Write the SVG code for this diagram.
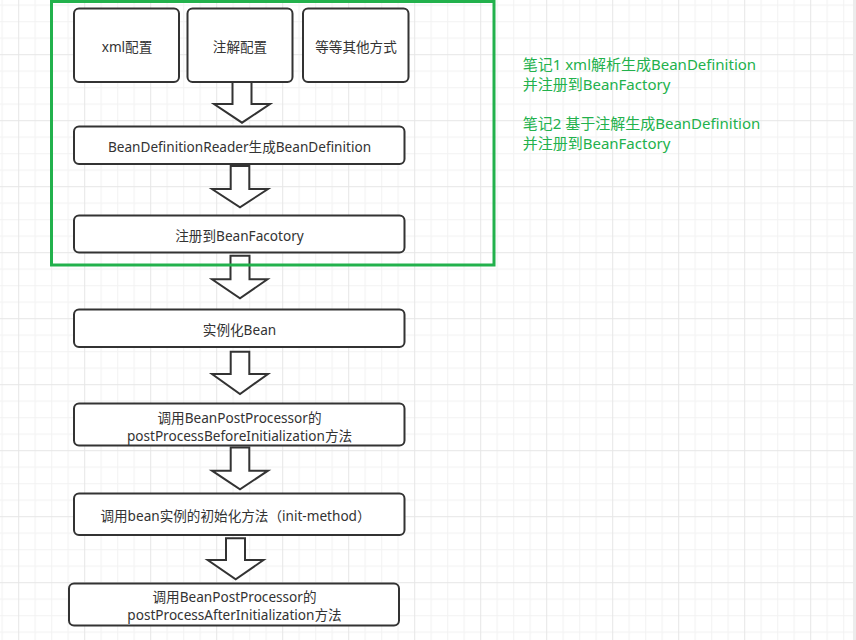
<svg xmlns="http://www.w3.org/2000/svg" width="856" height="640" viewBox="0 0 856 640">
<style>
.box{fill:#ffffff;stroke:#333333;stroke-width:2}
.arrow{fill:#ffffff;stroke:#333333;stroke-width:2;stroke-linejoin:miter}
.lbl{font-family:"Noto Sans","Noto Sans CJK SC",sans-serif;font-size:13.6px;fill:#333333;text-anchor:middle;dominant-baseline:central}
.note{font-family:"Noto Sans","Noto Sans CJK SC",sans-serif;font-size:15px;fill:#22b14c}
.frame{fill:none;stroke:#22b14c;stroke-width:3}
</style>
<defs>
<pattern id="grid" patternUnits="userSpaceOnUse" x="18.2" y="54.2" width="66" height="66">
<rect x="0" y="0" width="66" height="66" fill="#ffffff"/>
<rect x="16.5" y="0" width="1" height="66" fill="#f2f2f2"/>
<rect x="33" y="0" width="1" height="66" fill="#f2f2f2"/>
<rect x="49.5" y="0" width="1" height="66" fill="#f2f2f2"/>
<rect x="0" y="16.5" width="66" height="1" fill="#f2f2f2"/>
<rect x="0" y="33" width="66" height="1" fill="#f2f2f2"/>
<rect x="0" y="49.5" width="66" height="1" fill="#f2f2f2"/>
<rect x="0" y="0" width="1" height="66" fill="#e6e6e6"/>
<rect x="0" y="0" width="66" height="1" fill="#e6e6e6"/>
</pattern>
</defs>
<rect x="0" y="0" width="856" height="640" fill="url(#grid)"/>
<rect x="853" y="0" width="3" height="640" fill="#ececec"/>

<g id="connectors">
<polygon class="arrow" points="232.5,82 251.5,82 251.5,104 270,104 242,122.7 214,104 232.5,104"/>
<polygon class="arrow" points="230.7,166 249.3,166 249.3,189 268,189 240,207.3 212,189 230.7,189"/>
<polygon class="arrow" points="230.5,255.7 249.5,255.7 249.5,279.3 267.5,279.3 240,298.3 212,279.3 230.5,279.3"/>
<polygon class="arrow" points="230.7,351.7 249.3,351.7 249.3,374 268,374 240,394 212,374 230.7,374"/>
<polygon class="arrow" points="230.7,447.5 249.3,447.5 249.3,470.7 268,470.7 240,489.3 212,470.7 230.7,470.7"/>
<polygon class="arrow" points="226,538.3 245,538.3 245,560 263.5,560 235.7,579.3 207.7,560 226,560"/>
</g>

<g id="node-xml">
<rect class="box" x="74" y="8.5" width="105" height="73.5" rx="5"/>
<text class="lbl" x="127" y="46">xml配置</text>
</g>
<g id="node-annotation">
<rect class="box" x="187.5" y="8.5" width="105" height="73.5" rx="5"/>
<text class="lbl" x="240" y="46">注解配置</text>
</g>
<g id="node-other">
<rect class="box" x="303" y="8.5" width="105.5" height="73.5" rx="5"/>
<text class="lbl" x="356" y="46">等等其他方式</text>
</g>
<g id="node-reader">
<rect class="box" x="74" y="126.5" width="330.5" height="37.5" rx="5"/>
<text class="lbl" x="239.5" y="146">BeanDefinitionReader生成BeanDefinition</text>
</g>
<g id="node-register">
<rect class="box" x="74" y="215.5" width="330.5" height="37" rx="5"/>
<text class="lbl" x="239.5" y="235">注册到BeanFacotory</text>
</g>
<g id="node-instantiate">
<rect class="box" x="74" y="309.5" width="330.5" height="37.5" rx="5"/>
<text class="lbl" x="239.5" y="329">实例化Bean</text>
</g>
<g id="node-before">
<rect class="box" x="74" y="403.5" width="330.5" height="42" rx="5"/>
<text class="lbl" x="239.5" y="417.5">调用BeanPostProcessor的</text>
<text class="lbl" x="239.5" y="435">postProcessBeforeInitialization方法</text>
</g>
<g id="node-init">
<rect class="box" x="74" y="493.5" width="330.5" height="41.5" rx="5"/>
<text class="lbl" x="235.5" y="515">调用bean实例的初始化方法（init-method）</text>
</g>
<g id="node-after">
<rect class="box" x="69" y="583.5" width="330" height="42" rx="5"/>
<text class="lbl" x="234.5" y="596.5">调用BeanPostProcessor的</text>
<text class="lbl" x="234.5" y="614">postProcessAfterInitialization方法</text>
</g>

<g id="frame">
<rect class="frame" x="51.5" y="1.5" width="442.5" height="263.5"/>
</g>

<g id="notes">
<text class="note" x="522.7" y="69.5">笔记1 xml解析生成BeanDefinition</text>
<text class="note" x="522.7" y="89.5">并注册到BeanFactory</text>
<text class="note" x="522.7" y="128.5">笔记2 基于注解生成BeanDefinition</text>
<text class="note" x="522.7" y="148.5">并注册到BeanFactory</text>
</g>
</svg>
